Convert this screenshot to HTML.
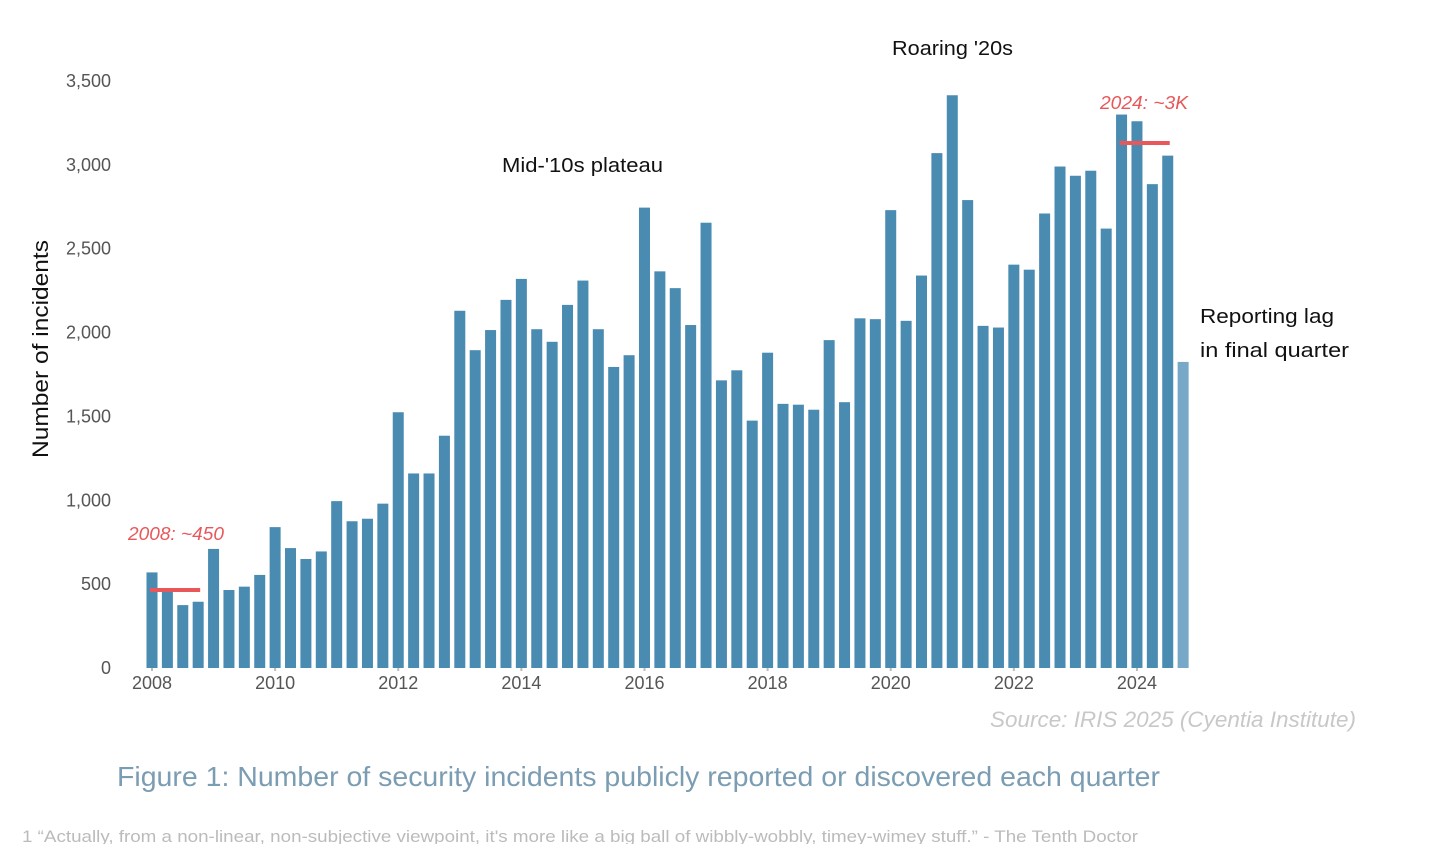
<!DOCTYPE html>
<html><head><meta charset="utf-8"><style>
body{margin:0;width:1456px;height:844px;background:#fff;overflow:hidden;font-family:"Liberation Sans",sans-serif}
svg text{font-family:"Liberation Sans",sans-serif}
</style></head><body>
<svg id="chart" width="1456" height="844">
<g id="axis"></g><g id="bars"></g><g id="ann"></g>
</svg>
<script>
const quarters=["2008Q1","2008Q2","2008Q3","2008Q4","2009Q1","2009Q2","2009Q3","2009Q4","2010Q1","2010Q2","2010Q3","2010Q4","2011Q1","2011Q2","2011Q3","2011Q4","2012Q1","2012Q2","2012Q3","2012Q4","2013Q1","2013Q2","2013Q3","2013Q4","2014Q1","2014Q2","2014Q3","2014Q4","2015Q1","2015Q2","2015Q3","2015Q4","2016Q1","2016Q2","2016Q3","2016Q4","2017Q1","2017Q2","2017Q3","2017Q4","2018Q1","2018Q2","2018Q3","2018Q4","2019Q1","2019Q2","2019Q3","2019Q4","2020Q1","2020Q2","2020Q3","2020Q4","2021Q1","2021Q2","2021Q3","2021Q4","2022Q1","2022Q2","2022Q3","2022Q4","2023Q1","2023Q2","2023Q3","2023Q4","2024Q1","2024Q2","2024Q3","2024Q4"];
const incidents=[570,475,375,395,710,465,485,555,840,715,650,695,995,875,890,980,1525,1160,1160,1385,2130,1895,2015,2195,2320,2020,1945,2165,2310,2020,1795,1865,2745,2365,2265,2045,2655,1715,1775,1475,1880,1575,1570,1540,1955,1585,2085,2080,2730,2070,2340,3070,3415,2790,2040,2030,2405,2375,2710,2990,2935,2965,2620,3300,3260,2885,3055,1825];
const yTicks=[0,500,1000,1500,2000,2500,3000,3500];
const yTickLabels=["0","500","1,000","1,500","2,000","2,500","3,000","3,500"];
const xTickYears=["2008","2010","2012","2014","2016","2018","2020","2022","2024"];
const refLines=[{start:0,end:3,value:465},{start:63,end:66,value:3130}];
const NS="http://www.w3.org/2000/svg";
const y=v=>668-v*(587/3500);
const x=i=>152+i*15.39;
function mk(tag,attrs,parent,text){const e=document.createElementNS(NS,tag);for(const k in attrs)e.setAttribute(k,attrs[k]);if(text!==undefined)e.textContent=text;parent.appendChild(e);return e;}
const ax=document.getElementById('axis'),bg=document.getElementById('bars'),an=document.getElementById('ann');
yTicks.forEach((t,i)=>{const e=mk('text',{x:111,y:y(t)+6,'text-anchor':'end','font-size':18,fill:'#555'},ax,yTickLabels[i]);

});
xTickYears.forEach((yr,i)=>{const qi=quarters.indexOf(yr+"Q1");
const l=mk('line',{x1:x(qi),x2:x(qi),y1:666,y2:671,stroke:'#bbb','stroke-width':2},ax);


const e=mk('text',{x:x(qi),y:689,'text-anchor':'middle','font-size':18,fill:'#555'},ax,yr);

});
incidents.forEach((v,i)=>{const r=mk('rect',{x:x(i)-5.5,y:y(v),width:11,height:665-y(v)+3,fill:i===incidents.length-1?'#78a8c8':'#4a8bb2'},bg);

});
refLines.forEach(r=>{const l=mk('line',{x1:x(r.start)-2,x2:x(r.end)+2,y1:y(r.value),y2:y(r.value),stroke:'#e8575a','stroke-width':4},an);

});
function txt(xx,yy,s,opts,name){const e=mk('text',Object.assign({x:xx,y:yy,'font-size':20,fill:'#111',lengthAdjust:'spacingAndGlyphs'},opts),an,s);

}
txt(48,349,"Number of incidents",{transform:"rotate(-90 48 349)",'text-anchor':'middle','font-size':22,textLength:218},'y-axis-title');
txt(128,540,"2008: ~450",{fill:'#e8575a','font-style':'italic','font-size':18,textLength:96},'annotation-2008');
txt(1100,109,"2024: ~3K",{fill:'#e8575a','font-style':'italic','font-size':18,textLength:88},'annotation-2024');
txt(502,172,"Mid-'10s plateau",{textLength:161},'annotation-plateau');
txt(892,55,"Roaring '20s",{textLength:121},'annotation-roaring');
txt(1200,323,"Reporting lag",{textLength:134},'annotation-lag-1');
txt(1200,357,"in final quarter",{textLength:149},'annotation-lag-2');
txt(990,727,"Source: IRIS 2025 (Cyentia Institute)",{fill:'#c8c8c8','font-style':'italic','font-size':22,textLength:366},'source-note');
txt(117,786,"Figure 1: Number of security incidents publicly reported or discovered each quarter",{fill:'#7b9db3','font-size':28,textLength:1043},'figure-caption');
txt(22,842,"1 \u201cActually, from a non-linear, non-subjective viewpoint, it's more like a big ball of wibbly-wobbly, timey-wimey stuff.\u201d - The Tenth Doctor",{fill:'#bbb','font-size':17,textLength:1116},'footnote');
</script>
</body></html>
